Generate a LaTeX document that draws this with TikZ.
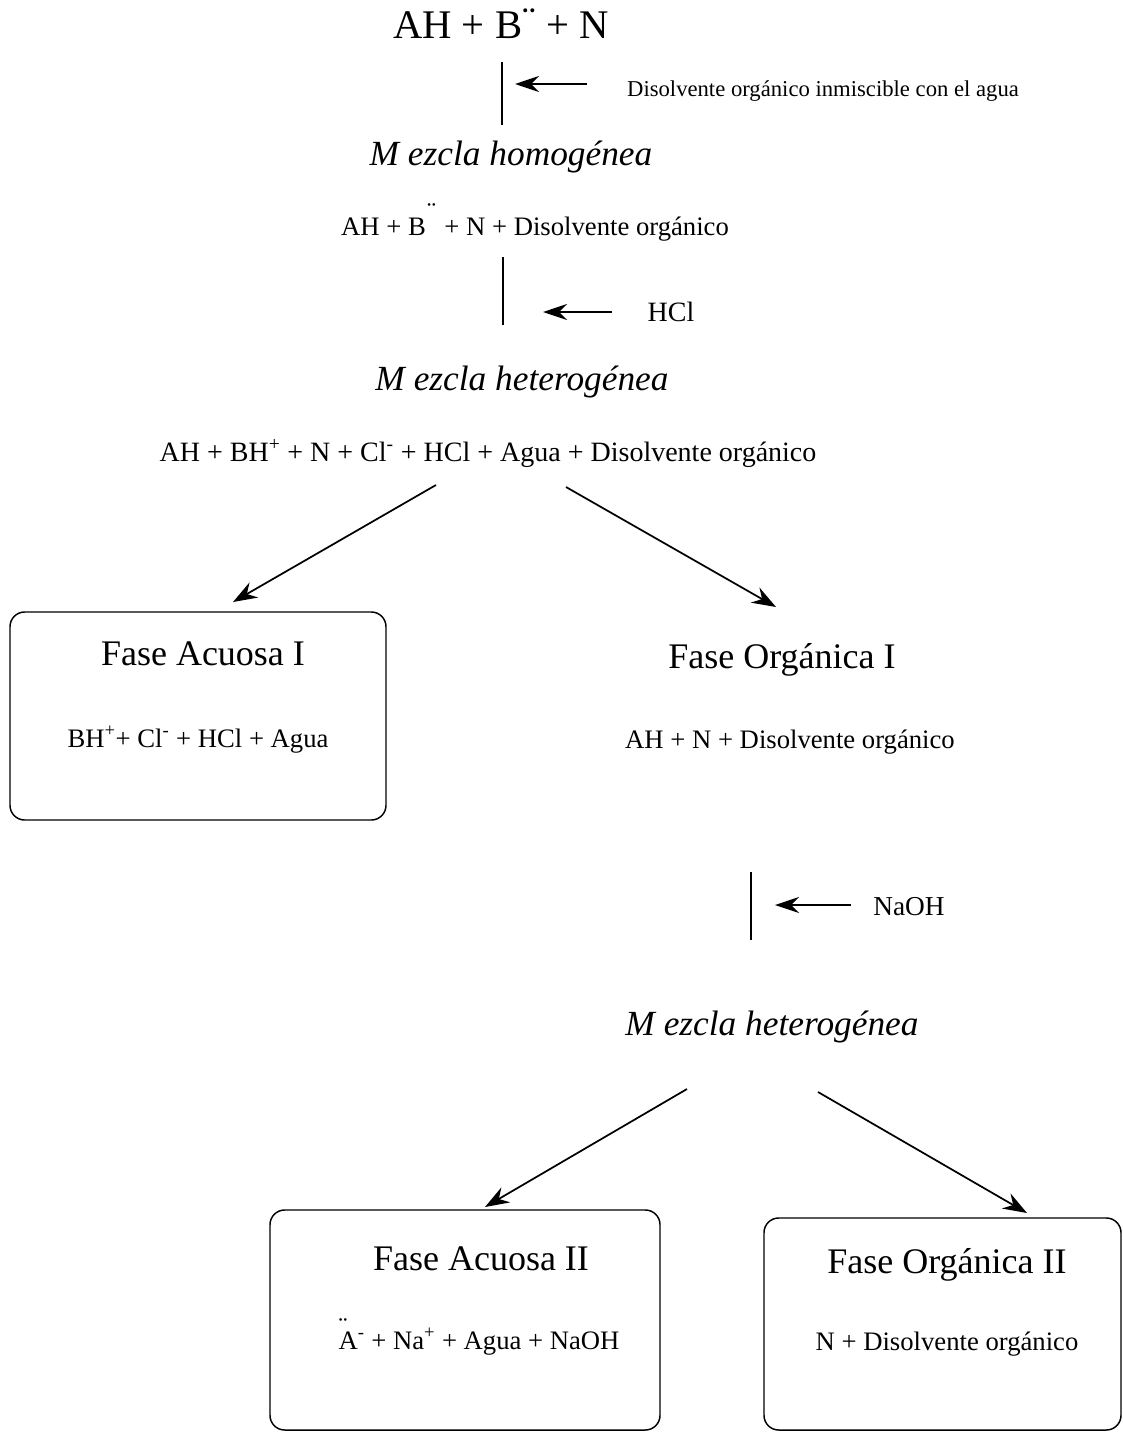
\documentclass[tikz,border=0pt]{standalone}
\usepackage{fontspec}
\setmainfont{Liberation Serif}
\usetikzlibrary{arrows.meta}

\newcommand{\fsize}[1]{\fontsize{#1}{#1}\selectfont}

\begin{document}
\begin{tikzpicture}[x=0.75pt,y=-0.75pt,
  txt/.style={inner sep=0pt,anchor=base},
  eqn/.style={txt,font=\fsize{20}},
  head/.style={txt,font=\fsize{27}},
  mix/.style={txt,font=\fsize{26.5}\itshape},
  phase/.style={draw,line width=1.1pt,rounded corners=11pt,inner sep=0pt},
  harr/.style={line width=1.8pt,-{Stealth[length=18pt,width=12pt,inset=6pt]}},
  darr/.style={line width=1.3pt,-{Stealth[length=18pt,width=13pt,inset=6pt]}}]
\useasboundingbox (0,0) rectangle (1123,1432);

% mezcla inicial
\node[txt,font=\fsize{30.5}] (start) at (501,38) {AH + B\kern0.5pt\raisebox{0.08em}{¨} + N};
\coordinate (v1a) at (502,62); \coordinate (v1b) at (502,125);
\draw[line width=1.3pt] (v1a)--(v1b);
\node[txt,font=\fsize{17}] (solv) at (823,96) {Disolvente orgánico inmiscible con el agua};
\coordinate (h1a) at (587,84); \coordinate (h1b) at (515,84);
\draw[harr] (h1a)--(h1b);
\node[mix] (homog) at (511,165) {M\kern0.25em ezcla homogénea};

% primera extraccion
\node[eqn] (mixA) at (535,235) {AH + B\rlap{\kern1pt\raisebox{0.55em}{¨}}\kern0.45em{} + N + Disolvente orgánico};
\coordinate (v2a) at (503,257); \coordinate (v2b) at (503,325);
\draw[line width=1.3pt] (v2a)--(v2b);
\node[txt,font=\fsize{21}] (hcl) at (671,321) {HCl};
\coordinate (h2a) at (612,312); \coordinate (h2b) at (543,312);
\draw[harr] (h2a)--(h2b);
\node[mix] (hetA) at (522,390) {M\kern0.25em ezcla heterogénea};
\node[txt,font=\fsize{21}] (mixB) at (488,461) {AH + BH\textsuperscript{+} + N + Cl\textsuperscript{-} + HCl + Agua + Disolvente orgánico};

\coordinate (d1a) at (436,485); \coordinate (d1b) at (233,602);
\coordinate (d2a) at (566,487); \coordinate (d2b) at (776,607);
\draw[darr] (d1a)--(d1b);
\draw[darr] (d2a)--(d2b);

% fases I
\node[phase,minimum width=282pt,minimum height=156pt] (acI) at (198,716) {};
\node[head] (acIt) at (203,665) {Fase Acuosa I};
\node[eqn] (acIf) at (198,747) {BH\textsuperscript{+}+ Cl\textsuperscript{-} + HCl + Agua};
\node[head] (orIt) at (782,668) {Fase Orgánica I};
\node[eqn] (orIf) at (790,748) {AH + N + Disolvente orgánico};

% segunda extraccion
\coordinate (v3a) at (751,872); \coordinate (v3b) at (751,940);
\draw[line width=1.3pt] (v3a)--(v3b);
\node[txt,font=\fsize{20.5}] (naoh) at (909,915) {NaOH};
\coordinate (h3a) at (851,905); \coordinate (h3b) at (775,905);
\draw[harr] (h3a)--(h3b);
\node[mix] (hetB) at (772,1035) {M\kern0.25em ezcla heterogénea};

\coordinate (d3a) at (687,1089); \coordinate (d3b) at (485,1207);
\coordinate (d4a) at (818,1092); \coordinate (d4b) at (1027,1213);
\draw[darr] (d3a)--(d3b);
\draw[darr] (d4a)--(d4b);

% fases II
\node[phase,minimum width=292.5pt,minimum height=165pt] (acII) at (465,1320) {};
\node[head] (acIIt) at (481,1270) {Fase Acuosa II};
\node[eqn] (acIIf) at (479,1349) {\rlap{\raisebox{0.5em}{¨}}A\textsuperscript{-} + Na\textsuperscript{+} + Agua + NaOH};
\node[phase,minimum width=267.75pt,minimum height=159pt] (orII) at (942.5,1324) {};
\node[head] (orIIt) at (947,1273) {Fase Orgánica II};
\node[eqn] (orIIf) at (947,1350) {N + Disolvente orgánico};
\end{tikzpicture}
\end{document}
